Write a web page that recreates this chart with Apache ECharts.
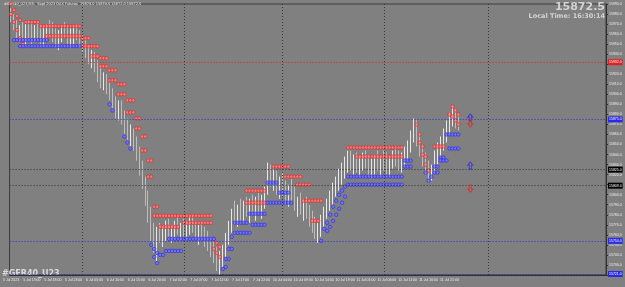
<!DOCTYPE html>
<html lang="en">
<head>
<meta charset="utf-8">
<title>#GER40_U23</title>
<script src="https://cdn.jsdelivr.net/npm/echarts@6.0.0/dist/echarts.min.js"></script>
<style>
    body { margin: 0; background: #808080; }
    #main { width: 625px; height: 287px; }
</style>
</head>
<body>
<div id="main"></div>
<script>
    // price axis
    var yMin = 15720, yMax = 15990, yStep = 10;
    var barCount = 200;
    var lastPrice = 15872.5;
    var headerText = '#GER40_U23,M5:  Sept 2023 DAX Futures  15879.0 15879.5 15872.0 15872.5';
    var localTime = 'Local Time: 16:30:14';

    var tickLabels = ['5 Jul 2023','5 Jul 13:00','5 Jul 18:00','5 Jul 23:00','6 Jul 05:00','6 Jul 10:00',
        '6 Jul 15:00','6 Jul 20:00','7 Jul 02:00','7 Jul 07:00','7 Jul 12:00','7 Jul 17:00','7 Jul 22:00',
        '10 Jul 04:00','10 Jul 09:00','10 Jul 14:00','10 Jul 19:00','11 Jul 01:00','11 Jul 06:00',
        '11 Jul 11:00','11 Jul 16:00','11 Jul 21:00'];

    var opens = [15984,15976,15968,15960,15964,15958,15966,15962,15956,15964,
        15960,15954,15962,15966,15964,15956,15950,15958,15964,15960,
        15954,15958,15962,15956,15950,15946,15940,15934,15938,15928,
        15918,15912,15916,15906,15898,15890,15882,15888,15876,15866,
        15858,15862,15850,15838,15824,15810,15794,15778,15760,15750,
        15762,15758,15764,15768,15762,15766,15770,15764,15768,15762,
        15768,15772,15766,15760,15764,15758,15754,15748,15744,15738,
        15730,15736,15744,15756,15768,15780,15776,15784,15780,15788,
        15782,15790,15784,15792,15786,15794,15804,15822,15814,15818,
        15808,15812,15804,15798,15806,15800,15790,15794,15786,15790,
        15782,15776,15768,15762,15766,15774,15782,15790,15798,15806,
        15812,15820,15826,15832,15836,15830,15834,15828,15832,15836,
        15830,15824,15830,15834,15828,15834,15830,15826,15832,15838,
        15834,15830,15836,15844,15848,15858,15870,15854,15844,15834,
        15826,15818,15828,15838,15846,15852,15860,15868,15878,15882,15874];
    var closes = [15976,15968,15960,15964,15958,15966,15962,15956,15964,15960,
        15954,15962,15966,15964,15956,15950,15958,15964,15960,15954,
        15958,15962,15956,15950,15946,15940,15934,15938,15928,15918,
        15912,15916,15906,15898,15890,15882,15888,15876,15866,15858,
        15862,15850,15838,15824,15810,15794,15778,15760,15750,15762,
        15758,15764,15768,15762,15766,15770,15764,15768,15762,15768,
        15772,15766,15760,15764,15758,15754,15748,15744,15738,15730,
        15736,15744,15756,15768,15780,15776,15784,15780,15788,15782,
        15790,15784,15792,15786,15794,15804,15822,15814,15818,15808,
        15812,15804,15798,15806,15800,15790,15794,15786,15790,15782,
        15776,15768,15762,15766,15774,15782,15790,15798,15806,15812,
        15820,15826,15832,15836,15830,15834,15828,15832,15836,15830,
        15824,15830,15834,15828,15834,15830,15826,15832,15838,15834,
        15830,15836,15844,15848,15858,15870,15854,15844,15834,15826,
        15818,15828,15838,15846,15852,15860,15868,15878,15882,15874,15872.5];
    var lows = [15972,15964,15956,15952,15954,15949,15956,15950,15952,15954,
        15950,15948,15954,15958,15952,15946,15944,15952,15956,15950,
        15946,15950,15954,15946,15942,15936,15930,15926,15922,15912,
        15906,15904,15900,15894,15886,15876,15874,15870,15860,15854,
        15848,15844,15834,15819,15806,15789,15772,15754,15742,15734,
        15752,15748,15754,15758,15752,15756,15760,15754,15758,15754,
        15760,15762,15756,15750,15754,15748,15744,15738,15732,15724,
        15720,15728,15738,15750,15762,15770,15768,15774,15772,15778,
        15772,15780,15774,15782,15776,15786,15800,15808,15804,15800,
        15796,15798,15790,15788,15794,15784,15778,15780,15774,15776,
        15768,15762,15756,15752,15758,15768,15776,15784,15790,15798,
        15804,15810,15816,15822,15824,15820,15822,15818,15824,15826,
        15818,15816,15820,15824,15818,15824,15820,15818,15826,15828,
        15824,15822,15828,15834,15842,15852,15848,15838,15828,15820,
        15812,15814,15822,15830,15838,15844,15852,15860,15868,15866,15864];
    var highs = [15986,15980,15974,15969,15972,15970,15974,15972,15969,15972,
        15970,15968,15970,15974,15972,15966,15964,15968,15972,15968,
        15966,15968,15970,15964,15960,15954,15948,15944,15942,15934,
        15928,15922,15920,15912,15906,15898,15894,15894,15884,15876,
        15870,15866,15858,15848,15834,15818,15804,15788,15772,15768,
        15772,15768,15774,15776,15770,15774,15778,15772,15776,15774,
        15778,15780,15774,15770,15774,15768,15764,15758,15754,15748,
        15744,15750,15762,15774,15786,15794,15790,15796,15794,15798,
        15796,15800,15798,15802,15800,15808,15832,15830,15826,15824,
        15818,15822,15814,15810,15816,15808,15798,15802,15796,15798,
        15790,15784,15778,15772,15780,15788,15796,15804,15812,15818,
        15826,15832,15838,15844,15844,15840,15842,15838,15842,15844,
        15840,15836,15840,15844,15838,15844,15842,15838,15844,15846,
        15844,15842,15848,15854,15864,15876,15874,15862,15850,15842,
        15834,15830,15844,15852,15858,15866,15874,15882,15888,15886,15880];

    // trailing stop dots, two red rows above and two blue rows below
    var redStopA = [15990,15984,15978,15974,null,15972,15972,15972,15972,15972,
        15968,15968,15968,15968,15968,15968,15968,15968,15968,15968,
        15968,15968,15968,15968,15956,15956,15956,15948,15948,15948,
        15936,15936,15936,15924,15924,15924,15910,15910,15910,15894,
        15894,15894,15876,15876,15858,15858,15834,15834,15779,15779,
        15779,15779,15779,15779,15779,15779,15779,15779,15779,15779,
        15779,15779,15779,15779,15779,15779,15779,15779,15756,15752,
        15748,null,null,null,null,null,null,null,null,15804,
        15804,15804,15804,15804,15804,15804,null,null,15828,15828,
        15828,15828,15828,15828,null,null,15810,15810,15810,15810,
        15810,15774,15774,15774,null,null,null,null,null,null,
        null,null,null,15847,15847,15847,15847,15847,15847,15847,
        15847,15847,15847,15847,15847,15847,15847,15847,15847,15847,
        15847,15847,null,null,null,null,15870,15860,15848,15838,
        null,null,15848,15848,15848,15848,null,15880,15888,15884,15880];
    var redStopB = [15980,15972,15964,15956,15950,null,null,null,null,null,
        null,null,15958,15958,15958,15958,15958,15958,15958,15958,
        15958,15958,15958,15958,15948,15948,15948,15938,15938,15938,
        15928,15928,15928,15914,15914,15914,15900,15900,15900,15882,
        15882,15882,15866,15866,15844,15844,15818,15818,15788,15788,
        15768,15768,15768,15768,15768,15768,15768,null,15772,15772,
        15772,15772,15772,15772,15772,15772,15772,15772,15746,15742,
        15738,null,null,null,null,null,null,null,null,15792,
        15792,15792,15792,15792,15792,15792,null,null,null,null,
        null,null,15818,15818,15818,15818,15818,15818,15794,15794,
        15794,15794,15794,15794,15794,null,null,null,null,null,
        null,null,null,null,null,null,15838,15838,15838,15838,
        15838,15838,15838,15838,15838,15838,15838,15838,15838,15838,
        15838,15838,null,null,null,null,null,15852,15840,15830,
        15824,null,null,null,null,null,null,null,15878,15874,15870];
    var blueStopA = [null,15954,15954,15954,15954,15954,15954,15954,15954,15954,
        15954,15954,15954,null,null,null,null,null,null,null,
        null,null,null,null,null,null,null,null,null,null,
        null,null,null,15890,15884,null,null,null,15858,15852,
        15846,null,null,null,null,null,null,15750,15746,15742,
        15740,15740,null,15756,15756,15756,15756,15756,15756,15756,
        15756,15756,15756,15756,15756,15756,15756,15756,15756,null,
        null,15726,15736,15746,15758,15772,15772,15772,15772,15772,
        15781,15781,15781,15781,15781,15781,15812,15812,15812,15812,
        15802,15802,15802,15802,null,null,null,null,null,null,
        null,null,null,null,15754,15766,15772,15780,15788,15794,
        15800,15804,15808,15818,15818,15818,15818,15818,15818,15818,
        15818,15818,15818,15818,15818,15818,15818,15818,15818,15818,
        15818,15818,15834,15834,15834,null,null,null,null,null,
        15814,15818,15828,15828,15837,15837,15860,15860,15860,15860,15860];
    var blueStopB = [null,null,null,15948,15948,15948,15948,15948,15948,15948,
        15948,15948,15948,15948,15948,15948,15948,15948,15948,15948,
        15948,15948,15948,15948,null,null,null,null,null,null,
        null,null,null,null,null,null,null,null,null,null,
        null,null,null,null,null,null,null,null,15738,15732,
        null,null,15744,15744,15744,15744,15744,15744,null,null,
        null,null,null,null,null,null,null,null,null,null,
        null,null,15728,15736,15746,15762,15762,15762,15762,15762,
        15762,15770,15770,15770,15770,15770,15792,15792,15792,15792,
        15792,15792,15792,15792,15792,null,null,null,null,null,
        null,null,null,null,null,null,15764,15768,15774,15780,
        15786,15792,15798,15810,15810,15810,15810,15810,15810,15810,
        15810,15810,15810,15810,15810,15810,15810,15810,15810,15810,
        15810,15810,15828,15828,15828,null,null,null,null,15822,
        null,null,15822,15822,15834,15834,15834,15846,15846,15846,15846];

    // signal arrows to the right of the last bar
    var signalBar = 154;
    var upSignals = [15877, 15829];
    var downSignals = [15871, 15806];

    // horizontal levels and day separators
    var redLevels = [15932];
    var blueLevels = [15875, 15754, 15721];
    var darkLevels = [15825, 15809];
    var askLevel = 15868;
    var daySeparators = [24, 58, 91, 125, 160];

    var cats = [];
    for (var i = 0; i < barCount; i++) cats.push(i);

    var candles = [];
    for (var j = 0; j < closes.length; j++) {
        candles.push([opens[j], closes[j], lows[j], highs[j]]);
    }

    function dots(arr) {
        var out = [];
        for (var k = 0; k < arr.length; k++) {
            if (arr[k] !== null) out.push([k, arr[k]]);
        }
        return out;
    }

    function levelLine(v, color, boxColor) {
        return {
            yAxis: v,
            lineStyle: { color: color, type: [1, 2], width: 1 },
            label: { backgroundColor: boxColor }
        };
    }

    var lines = [];
    redLevels.forEach(function (v) { lines.push(levelLine(v, '#e02020', '#e02020')); });
    blueLevels.forEach(function (v) { lines.push(levelLine(v, '#2a2ae6', '#2a2ae6')); });
    darkLevels.forEach(function (v) { lines.push(levelLine(v, '#303030', '#000000')); });
    lines.push({ yAxis: askLevel, lineStyle: { opacity: 0 }, label: { backgroundColor: '#000000' } });
    daySeparators.forEach(function (b) {
        lines.push({ xAxis: b, lineStyle: { color: '#3a3a3a', type: [1, 2], width: 1 }, label: { show: false } });
    });

    var upArrow = 'path://M5,0 L10,5 L7,5 L7,11 L3,11 L3,5 L0,5 Z';

    var myChart = echarts.init(document.getElementById('main'));
    var option = {
        backgroundColor: '#808080',
        animation: false,
        grid: { left: 3, right: 19, top: 4, bottom: 12, show: true, borderColor: '#3c3c3c', borderWidth: 1 },
        xAxis: {
            type: 'category',
            data: cats,
            axisLine: { lineStyle: { color: '#303030' } },
            axisTick: { interval: 6, alignWithLabel: true, length: 2, lineStyle: { color: '#303030' } },
            axisLabel: {
                interval: 6,
                fontSize: 3.5,
                color: '#ececec',
                margin: 3,
                formatter: function (val, idx) {
                    var n = idx / 7;
                    return n < tickLabels.length ? tickLabels[n] : '';
                }
            },
            splitLine: { show: false }
        },
        yAxis: {
            type: 'value',
            position: 'right',
            min: yMin,
            max: yMax,
            interval: yStep,
            axisLine: { show: true, lineStyle: { color: '#303030' } },
            axisTick: { show: true, length: 2, lineStyle: { color: '#303030' } },
            axisLabel: {
                fontSize: 3.5,
                color: '#ececec',
                margin: 3,
                formatter: function (v) { return v.toFixed(1); }
            },
            splitLine: { show: false }
        },
        graphic: [
            { type: 'text', x: 4, y: 2, style: { text: headerText, fill: '#f4f4f4', font: '3.5px "DejaVu Sans"' } },
            { type: 'text', x: 605, y: 2, style: { text: lastPrice.toFixed(1), fill: '#d2d2d2', font: 'bold 11px "DejaVu Sans"', textAlign: 'right' } },
            { type: 'text', x: 605, y: 13, style: { text: localTime, fill: '#d2d2d2', font: 'bold 6.5px "DejaVu Sans"', textAlign: 'right' } },
            { type: 'text', x: 2, y: 270, style: { text: '#GER40_U23', fill: '#dadada', font: 'bold 8px "DejaVu Sans"' } }
        ],
        series: [
            {
                type: 'candlestick',
                data: candles,
                barWidth: 1,
                itemStyle: {
                    color: '#e8e8e8', color0: '#bdbdbd',
                    borderColor: '#e8e8e8', borderColor0: '#bdbdbd', borderWidth: 1
                },
                markLine: {
                    symbol: ['none', 'none'],
                    silent: true,
                    label: {
                        position: 'end',
                        distance: 2,
                        fontSize: 3.5,
                        color: '#ffffff',
                        padding: [1, 1],
                        formatter: function (p) { return Number(p.value).toFixed(1); }
                    },
                    data: lines
                }
            },
            {
                type: 'scatter', data: dots(redStopA), symbolSize: 3.5, z: 4,
                itemStyle: { color: '#ff8080', borderColor: '#e02828', borderWidth: 0.8 }
            },
            {
                type: 'scatter', data: dots(redStopB), symbolSize: 3.5, z: 4,
                itemStyle: { color: '#ff8080', borderColor: '#e02828', borderWidth: 0.8 }
            },
            {
                type: 'scatter', data: dots(blueStopA), symbolSize: 3.5, z: 4,
                itemStyle: { color: '#7070ff', borderColor: '#2a2ae6', borderWidth: 0.8 }
            },
            {
                type: 'scatter', data: dots(blueStopB), symbolSize: 3.5, z: 4,
                itemStyle: { color: '#7070ff', borderColor: '#2a2ae6', borderWidth: 0.8 }
            },
            {
                type: 'scatter', symbol: upArrow, symbolSize: [5, 7], z: 5,
                data: upSignals.map(function (v) { return [signalBar, v]; }),
                itemStyle: { color: 'rgba(0,0,0,0)', borderColor: '#2a2ae6', borderWidth: 1 }
            },
            {
                type: 'scatter', symbol: upArrow, symbolRotate: 180, symbolSize: [5, 7], z: 5,
                data: downSignals.map(function (v) { return [signalBar, v]; }),
                itemStyle: { color: 'rgba(0,0,0,0)', borderColor: '#e02828', borderWidth: 1 }
            }
        ]
    };
    myChart.setOption(option);
</script>
</body>
</html>
